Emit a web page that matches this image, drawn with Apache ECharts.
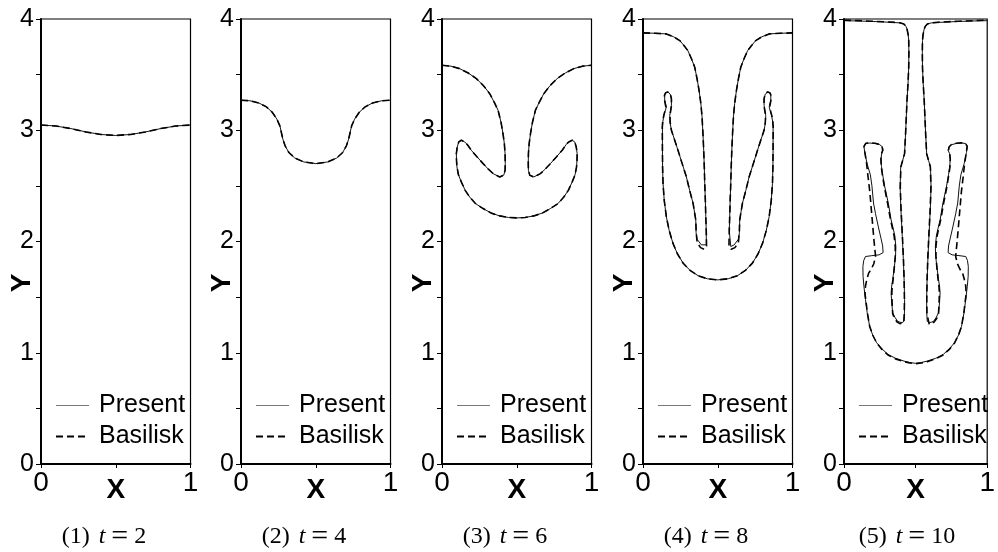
<!DOCTYPE html>
<html>
<head>
<meta charset="utf-8">
<script src="https://cdn.jsdelivr.net/npm/echarts@6/dist/echarts.min.js"></script>
<style>html,body{margin:0;padding:0;background:#fff}#c{width:998px;height:552px}</style>
</head>
<body>
<div id="c"></div>
<script>
// ---------- data ----------
const panelTitles = ['(1)', '(2)', '(3)', '(4)', '(5)'];
const panelTimes = ['2', '4', '6', '8', '10'];
const xTickLabels = ['0', '1'];
const yTickLabels = ['0', '1', '2', '3', '4'];
const seriesNames = ['Present', 'Basilisk'];

const p1Present = [[0,3.047],[0.1,3.038],[0.2,3.015],[0.3,2.985],[0.4,2.962],[0.5,2.953],[0.6,2.962],[0.7,2.985],[0.8,3.015],[0.9,3.038],[1,3.047]];
const p1Basilisk = [[0,3.047],[0.1,3.038],[0.2,3.015],[0.3,2.985],[0.4,2.962],[0.5,2.953],[0.6,2.962],[0.7,2.985],[0.8,3.015],[0.9,3.038],[1,3.047]];

const p2Present = [[0,3.27],[0.06,3.265],[0.12,3.245],[0.17,3.21],[0.21,3.16],[0.24,3.10],[0.26,3.04],[0.27,2.98],[0.28,2.92],[0.295,2.86],[0.32,2.80],[0.36,2.75],[0.42,2.715],[0.5,2.70],[0.58,2.715],[0.64,2.75],[0.68,2.80],[0.705,2.86],[0.72,2.92],[0.73,2.98],[0.74,3.04],[0.76,3.10],[0.79,3.16],[0.83,3.21],[0.88,3.245],[0.94,3.265],[1,3.27]];
const p2Basilisk = [[0,3.27],[0.06,3.265],[0.12,3.245],[0.17,3.21],[0.21,3.16],[0.24,3.10],[0.26,3.04],[0.27,2.98],[0.28,2.92],[0.295,2.86],[0.32,2.80],[0.36,2.75],[0.42,2.715],[0.5,2.70],[0.58,2.715],[0.64,2.75],[0.68,2.80],[0.705,2.86],[0.72,2.92],[0.73,2.98],[0.74,3.04],[0.76,3.10],[0.79,3.16],[0.83,3.21],[0.88,3.245],[0.94,3.265],[1,3.27]];

const p3Present = [[0,3.584],[0.06,3.576],[0.118,3.554],[0.175,3.515],[0.23,3.464],[0.278,3.40],[0.319,3.329],[0.35,3.25],[0.375,3.18],[0.395,3.07],[0.408,2.97],[0.417,2.88],[0.422,2.79],[0.423,2.70],[0.422,2.64],[0.413,2.596],[0.386,2.58],[0.342,2.61],[0.31,2.65],[0.275,2.70],[0.235,2.76],[0.196,2.82],[0.17,2.87],[0.152,2.895],[0.129,2.91],[0.112,2.895],[0.102,2.85],[0.096,2.79],[0.097,2.73],[0.10,2.67],[0.11,2.60],[0.129,2.536],[0.155,2.46],[0.185,2.40],[0.225,2.34],[0.275,2.296],[0.33,2.255],[0.386,2.23],[0.445,2.216],[0.5,2.212],
[0.555,2.216],[0.614,2.23],[0.67,2.255],[0.725,2.296],[0.775,2.34],[0.815,2.40],[0.845,2.46],[0.871,2.536],[0.89,2.60],[0.90,2.67],[0.903,2.73],[0.904,2.79],[0.898,2.85],[0.888,2.895],[0.871,2.91],[0.848,2.895],[0.83,2.87],[0.804,2.82],[0.765,2.76],[0.725,2.70],[0.69,2.65],[0.658,2.61],[0.614,2.58],[0.587,2.596],[0.578,2.64],[0.577,2.70],[0.578,2.79],[0.583,2.88],[0.592,2.97],[0.605,3.07],[0.625,3.18],[0.65,3.25],[0.681,3.329],[0.722,3.40],[0.77,3.464],[0.825,3.515],[0.882,3.554],[0.94,3.576],[1,3.584]];
const p3Basilisk = [[0,3.584],[0.06,3.576],[0.118,3.554],[0.175,3.515],[0.23,3.464],[0.278,3.40],[0.319,3.329],[0.35,3.25],[0.375,3.18],[0.395,3.07],[0.408,2.97],[0.417,2.88],[0.422,2.79],[0.423,2.70],[0.422,2.64],[0.413,2.596],[0.386,2.58],[0.342,2.61],[0.31,2.65],[0.275,2.70],[0.235,2.76],[0.196,2.82],[0.17,2.87],[0.152,2.895],[0.129,2.91],[0.112,2.895],[0.102,2.85],[0.096,2.79],[0.097,2.73],[0.10,2.67],[0.11,2.60],[0.129,2.536],[0.155,2.46],[0.185,2.40],[0.225,2.34],[0.275,2.296],[0.33,2.255],[0.386,2.23],[0.445,2.216],[0.5,2.212],
[0.555,2.216],[0.614,2.23],[0.67,2.255],[0.725,2.296],[0.775,2.34],[0.815,2.40],[0.845,2.46],[0.871,2.536],[0.89,2.60],[0.90,2.67],[0.903,2.73],[0.904,2.79],[0.898,2.85],[0.888,2.895],[0.871,2.91],[0.848,2.895],[0.83,2.87],[0.804,2.82],[0.765,2.76],[0.725,2.70],[0.69,2.65],[0.658,2.61],[0.614,2.58],[0.587,2.596],[0.578,2.64],[0.577,2.70],[0.578,2.79],[0.583,2.88],[0.592,2.97],[0.605,3.07],[0.625,3.18],[0.65,3.25],[0.681,3.329],[0.722,3.40],[0.77,3.464],[0.825,3.515],[0.882,3.554],[0.94,3.576],[1,3.584]];

const p4Present = [[0,3.875],[0.08,3.872],[0.156,3.866],[0.205,3.84],[0.246,3.806],[0.275,3.76],[0.30,3.716],[0.325,3.64],[0.346,3.567],[0.362,3.46],[0.375,3.358],[0.387,3.24],[0.395,3.12],[0.401,2.97],[0.406,2.82],[0.41,2.67],[0.413,2.52],[0.417,2.37],[0.42,2.224],[0.423,2.10],[0.424,1.97],[0.413,1.955],[0.39,1.97],[0.362,2.02],[0.355,2.08],[0.353,2.194],[0.335,2.343],[0.312,2.46],[0.29,2.582],[0.262,2.70],[0.234,2.82],[0.21,2.92],[0.19,3.0],[0.181,3.07],[0.179,3.134],[0.186,3.19],[0.19,3.224],[0.19,3.284],[0.182,3.325],[0.167,3.343],[0.152,3.338],[0.145,3.315],[0.145,3.269],[0.156,3.209],[0.148,3.17],[0.14,3.134],[0.133,3.08],[0.13,3.03],[0.13,2.82],[0.131,2.67],[0.134,2.522],[0.142,2.37],[0.156,2.224],[0.175,2.10],[0.20,1.985],[0.23,1.89],[0.268,1.806],[0.315,1.74],[0.368,1.693],[0.43,1.665],[0.5,1.655],
[0.57,1.665],[0.632,1.693],[0.685,1.74],[0.732,1.806],[0.77,1.89],[0.80,1.985],[0.825,2.10],[0.844,2.224],[0.858,2.37],[0.866,2.522],[0.869,2.67],[0.87,2.82],[0.87,3.03],[0.867,3.08],[0.86,3.134],[0.852,3.17],[0.844,3.209],[0.855,3.269],[0.855,3.315],[0.848,3.338],[0.833,3.343],[0.818,3.325],[0.81,3.284],[0.81,3.224],[0.814,3.19],[0.821,3.134],[0.819,3.07],[0.81,3.0],[0.79,2.92],[0.766,2.82],[0.738,2.70],[0.71,2.582],[0.688,2.46],[0.665,2.343],[0.647,2.194],[0.645,2.08],[0.638,2.02],[0.61,1.97],[0.587,1.955],[0.576,1.97],[0.577,2.10],[0.58,2.224],[0.583,2.37],[0.587,2.52],[0.59,2.67],[0.594,2.82],[0.599,2.97],[0.605,3.12],[0.613,3.24],[0.625,3.358],[0.638,3.46],[0.654,3.567],[0.675,3.64],[0.70,3.716],[0.725,3.76],[0.754,3.806],[0.795,3.84],[0.844,3.866],[0.92,3.872],[1,3.875]];
const p4Basilisk = [[0,3.875],[0.08,3.872],[0.156,3.866],[0.205,3.84],[0.246,3.806],[0.275,3.76],[0.30,3.716],[0.325,3.64],[0.346,3.567],[0.362,3.46],[0.375,3.358],[0.387,3.24],[0.395,3.12],[0.401,2.97],[0.406,2.82],[0.41,2.67],[0.413,2.52],[0.417,2.37],[0.42,2.224],[0.423,2.10],[0.425,1.96],[0.41,1.93],[0.385,1.945],[0.362,1.99],[0.356,2.08],[0.353,2.194],[0.335,2.343],[0.312,2.46],[0.29,2.582],[0.262,2.70],[0.234,2.82],[0.21,2.92],[0.19,3.0],[0.182,3.07],[0.18,3.134],[0.187,3.19],[0.191,3.224],[0.19,3.284],[0.182,3.33],[0.165,3.345],[0.15,3.335],[0.143,3.31],[0.145,3.265],[0.153,3.209],[0.146,3.17],[0.139,3.134],[0.132,3.08],[0.129,3.03],[0.13,2.82],[0.131,2.67],[0.134,2.522],[0.142,2.37],[0.156,2.224],[0.175,2.10],[0.20,1.985],[0.23,1.89],[0.268,1.806],[0.315,1.74],[0.368,1.693],[0.43,1.665],[0.5,1.655],
[0.57,1.665],[0.632,1.693],[0.685,1.74],[0.732,1.806],[0.77,1.89],[0.80,1.985],[0.825,2.10],[0.844,2.224],[0.858,2.37],[0.866,2.522],[0.869,2.67],[0.87,2.82],[0.871,3.03],[0.868,3.08],[0.861,3.134],[0.854,3.17],[0.847,3.209],[0.855,3.265],[0.857,3.31],[0.85,3.335],[0.835,3.345],[0.818,3.33],[0.81,3.284],[0.809,3.224],[0.813,3.19],[0.82,3.134],[0.818,3.07],[0.81,3.0],[0.79,2.92],[0.766,2.82],[0.738,2.70],[0.71,2.582],[0.688,2.46],[0.665,2.343],[0.647,2.194],[0.644,2.08],[0.638,1.99],[0.615,1.945],[0.59,1.93],[0.575,1.96],[0.577,2.10],[0.58,2.224],[0.583,2.37],[0.587,2.52],[0.59,2.67],[0.594,2.82],[0.599,2.97],[0.605,3.12],[0.613,3.24],[0.625,3.358],[0.638,3.46],[0.654,3.567],[0.675,3.64],[0.70,3.716],[0.725,3.76],[0.754,3.806],[0.795,3.84],[0.844,3.866],[0.92,3.872],[1,3.875]];

const p5Present = [[0,3.985],[0.1,3.982],[0.2,3.978],[0.329,3.97],[0.39,3.965],[0.418,3.955],[0.432,3.935],[0.44,3.91],[0.448,3.86],[0.452,3.806],[0.453,3.70],[0.452,3.567],[0.447,3.42],[0.44,3.269],[0.435,3.12],[0.43,2.97],[0.426,2.87],[0.423,2.79],[0.41,2.73],[0.396,2.67],[0.392,2.49],[0.397,2.30],[0.407,2.045],[0.414,1.85],[0.42,1.65],[0.423,1.478],[0.422,1.35],[0.419,1.283],[0.405,1.27],[0.39,1.275],[0.374,1.283],[0.355,1.32],[0.34,1.36],[0.333,1.45],[0.329,1.537],[0.333,1.60],[0.34,1.657],[0.352,1.776],[0.36,1.87],[0.362,1.955],[0.355,2.05],[0.343,2.12],[0.329,2.194],[0.31,2.34],[0.285,2.49],[0.27,2.60],[0.262,2.672],[0.258,2.74],[0.263,2.79],[0.273,2.821],[0.268,2.85],[0.25,2.87],[0.217,2.881],[0.18,2.885],[0.15,2.881],[0.139,2.855],[0.145,2.80],[0.161,2.70],[0.184,2.60],[0.195,2.50],[0.206,2.346],[0.22,2.25],[0.24,2.131],[0.258,2.03],[0.27,1.96],[0.273,1.90],[0.245,1.88],[0.19,1.872],[0.15,1.865],[0.138,1.83],[0.132,1.776],[0.133,1.687],[0.139,1.597],[0.15,1.478],[0.162,1.36],[0.179,1.239],[0.2,1.16],[0.228,1.09],[0.265,1.035],[0.307,0.985],[0.36,0.95],[0.419,0.925],[0.46,0.912],[0.5,0.905],
[0.54,0.912],[0.581,0.925],[0.64,0.95],[0.693,0.985],[0.735,1.035],[0.772,1.09],[0.8,1.16],[0.821,1.239],[0.838,1.36],[0.85,1.478],[0.861,1.597],[0.867,1.687],[0.868,1.776],[0.862,1.83],[0.85,1.865],[0.81,1.872],[0.755,1.88],[0.727,1.90],[0.73,1.96],[0.742,2.03],[0.76,2.131],[0.78,2.25],[0.794,2.346],[0.805,2.50],[0.816,2.60],[0.839,2.70],[0.855,2.80],[0.861,2.855],[0.85,2.881],[0.82,2.885],[0.783,2.881],[0.75,2.87],[0.732,2.85],[0.727,2.821],[0.737,2.79],[0.742,2.74],[0.738,2.672],[0.73,2.60],[0.715,2.49],[0.69,2.34],[0.671,2.194],[0.657,2.12],[0.645,2.05],[0.638,1.955],[0.64,1.87],[0.648,1.776],[0.66,1.657],[0.667,1.60],[0.671,1.537],[0.667,1.45],[0.66,1.36],[0.645,1.32],[0.626,1.283],[0.61,1.275],[0.595,1.27],[0.581,1.283],[0.578,1.35],[0.577,1.478],[0.58,1.65],[0.586,1.85],[0.593,2.045],[0.603,2.30],[0.608,2.49],[0.604,2.67],[0.59,2.73],[0.577,2.79],[0.574,2.87],[0.57,2.97],[0.565,3.12],[0.56,3.269],[0.553,3.42],[0.548,3.567],[0.547,3.70],[0.548,3.806],[0.552,3.86],[0.56,3.91],[0.568,3.935],[0.582,3.955],[0.61,3.965],[0.671,3.97],[0.8,3.978],[0.9,3.982],[1,3.985]];
const p5Basilisk = [[0,3.99],[0.1,3.985],[0.2,3.98],[0.329,3.972],[0.39,3.966],[0.418,3.955],[0.432,3.935],[0.44,3.91],[0.448,3.86],[0.452,3.806],[0.453,3.70],[0.452,3.567],[0.447,3.42],[0.44,3.269],[0.435,3.12],[0.43,2.97],[0.426,2.87],[0.423,2.79],[0.41,2.73],[0.397,2.67],[0.393,2.49],[0.398,2.30],[0.408,2.045],[0.415,1.85],[0.42,1.65],[0.422,1.478],[0.421,1.35],[0.417,1.27],[0.405,1.255],[0.39,1.262],[0.372,1.275],[0.352,1.31],[0.34,1.35],[0.336,1.45],[0.334,1.537],[0.337,1.60],[0.343,1.657],[0.352,1.776],[0.358,1.87],[0.358,1.955],[0.35,2.05],[0.338,2.12],[0.325,2.194],[0.305,2.34],[0.282,2.49],[0.268,2.60],[0.26,2.672],[0.258,2.74],[0.262,2.79],[0.27,2.821],[0.266,2.85],[0.25,2.872],[0.217,2.883],[0.18,2.887],[0.152,2.883],[0.14,2.855],[0.146,2.80],[0.158,2.70],[0.168,2.58],[0.18,2.45],[0.19,2.30],[0.2,2.15],[0.21,2.00],[0.218,1.90],[0.22,1.865],[0.208,1.80],[0.19,1.75],[0.172,1.716],[0.158,1.65],[0.15,1.60],[0.147,1.53],[0.152,1.478],[0.163,1.36],[0.179,1.239],[0.2,1.16],[0.228,1.088],[0.265,1.03],[0.307,0.98],[0.36,0.945],[0.419,0.92],[0.46,0.908],[0.5,0.902],
[0.54,0.908],[0.581,0.92],[0.64,0.945],[0.693,0.98],[0.735,1.03],[0.772,1.088],[0.8,1.16],[0.821,1.239],[0.837,1.36],[0.848,1.478],[0.853,1.53],[0.85,1.60],[0.842,1.65],[0.828,1.716],[0.81,1.75],[0.792,1.80],[0.78,1.865],[0.782,1.90],[0.79,2.00],[0.8,2.15],[0.81,2.30],[0.82,2.45],[0.832,2.58],[0.842,2.70],[0.854,2.80],[0.86,2.855],[0.848,2.883],[0.82,2.887],[0.783,2.883],[0.75,2.872],[0.734,2.85],[0.73,2.821],[0.738,2.79],[0.742,2.74],[0.74,2.672],[0.732,2.60],[0.718,2.49],[0.695,2.34],[0.675,2.194],[0.662,2.12],[0.65,2.05],[0.642,1.955],[0.642,1.87],[0.648,1.776],[0.657,1.657],[0.663,1.60],[0.666,1.537],[0.664,1.45],[0.66,1.35],[0.648,1.31],[0.628,1.275],[0.61,1.262],[0.595,1.255],[0.583,1.27],[0.579,1.35],[0.578,1.478],[0.58,1.65],[0.585,1.85],[0.592,2.045],[0.602,2.30],[0.607,2.49],[0.603,2.67],[0.59,2.73],[0.577,2.79],[0.574,2.87],[0.57,2.97],[0.565,3.12],[0.56,3.269],[0.553,3.42],[0.548,3.567],[0.547,3.70],[0.548,3.806],[0.552,3.86],[0.56,3.91],[0.568,3.935],[0.582,3.955],[0.61,3.966],[0.671,3.972],[0.8,3.98],[0.9,3.985],[1,3.99]];

const presentData = [p1Present, p2Present, p3Present, p4Present, p5Present];
const basiliskData = [p1Basilisk, p2Basilisk, p3Basilisk, p4Basilisk, p5Basilisk];

// ---------- layout / style ----------
const panelLefts = [41, 241, 442, 643, 844];
const panelTop = 19, panelW = 149.5, panelH = 445;
const sans = '"Liberation Sans", Arial, Helvetica, sans-serif';
const serif = '"Liberation Serif", "Times New Roman", serif';

const chart = echarts.init(document.getElementById('c'), null, {renderer: 'canvas'});

const grids = [], xAxes = [], yAxes = [], series = [], legends = [], graphics = [];
panelLefts.forEach((left, i) => {
  grids.push({left: left, top: panelTop, width: panelW, height: panelH, show: true,
    borderColor: '#000', borderWidth: 1.2, backgroundColor: 'transparent'});
  xAxes.push({
    gridIndex: i, type: 'value', min: 0, max: 1, interval: 0.5,
    axisLine: {show: true, onZero: false, lineStyle: {color: '#000', width: 2}},
    axisTick: {show: true, length: 4, lineStyle: {color: '#000', width: 1}},
    axisLabel: {show: true, color: '#000', fontSize: 28, fontFamily: sans, margin: 5,
      showMinLabel: true, showMaxLabel: true,
      formatter: v => (v === 0 ? xTickLabels[0] : (v === 1 ? xTickLabels[1] : ''))},
    splitLine: {show: false},
    name: 'X', nameLocation: 'middle', nameGap: 12, nameMoveOverlap: false,
    nameTextStyle: {color: '#000', fontSize: 28, fontWeight: 'bold', fontFamily: sans}
  });
  yAxes.push({
    gridIndex: i, type: 'value', min: 0, max: 4, interval: 0.5,
    axisLine: {show: true, onZero: false, lineStyle: {color: '#000', width: 2}},
    axisTick: {show: true, length: 5, lineStyle: {color: '#000', width: 1}},
    axisLabel: {show: true, color: '#000', fontSize: 25, fontFamily: sans, margin: 7,
      showMinLabel: true, showMaxLabel: true,
      formatter: v => (Number.isInteger(v) ? yTickLabels[v] : '')},
    splitLine: {show: false}
  });
  series.push({
    type: 'line', name: seriesNames[0], xAxisIndex: i, yAxisIndex: i,
    data: presentData[i], symbol: 'none', showSymbol: false, silent: true,
    itemStyle: {color: '#111'},
    lineStyle: {color: '#111', width: 1}, z: 2
  });
  series.push({
    type: 'line', name: seriesNames[1], xAxisIndex: i, yAxisIndex: i,
    data: basiliskData[i], symbol: 'none', showSymbol: false, silent: true,
    itemStyle: {color: '#000'},
    lineStyle: {color: '#000', width: 1.6, type: [7, 4]}, z: 3
  });
  legends.push({
    left: left + 14, top: 393, orient: 'vertical', padding: 0,
    itemWidth: 33, itemHeight: 14, itemGap: 6, selectedMode: false,
    itemStyle: {opacity: 0},
    textStyle: {color: '#000', fontSize: 25, fontFamily: sans, padding: [0, 0, 0, 5]},
    data: [{name: seriesNames[0], itemStyle: {opacity: 0}, lineStyle: {color: '#777', width: 1.2}},
           {name: seriesNames[1], itemStyle: {opacity: 0}}]
  });
  graphics.push({
    type: 'text', x: left - 19, y: 283, rotation: Math.PI / 2,
    style: {text: 'Y', fill: '#000', font: 'bold 28px ' + sans, align: 'center', verticalAlign: 'middle'}
  });
  graphics.push({
    type: 'text', x: left + 63, y: 537,
    style: {
      text: '{a|' + panelTitles[i] + '}{b|t}{c|=}{a|' + panelTimes[i] + '}',
      fill: '#000', align: 'center', verticalAlign: 'middle',
      rich: {
        a: {fontSize: 24, fontFamily: serif, fill: '#000'},
        b: {fontSize: 24, fontFamily: serif, fontStyle: 'italic', fill: '#000', padding: [0, 0, 0, 9]},
        c: {fontSize: 30, fontFamily: serif, fill: '#000', padding: [0, 6, 0, 6]}
      }
    }
  });
});

chart.setOption({
  animation: false,
  backgroundColor: '#fff',
  grid: grids, xAxis: xAxes, yAxis: yAxes,
  legend: legends, series: series, graphic: graphics
});
</script>
</body>
</html>
